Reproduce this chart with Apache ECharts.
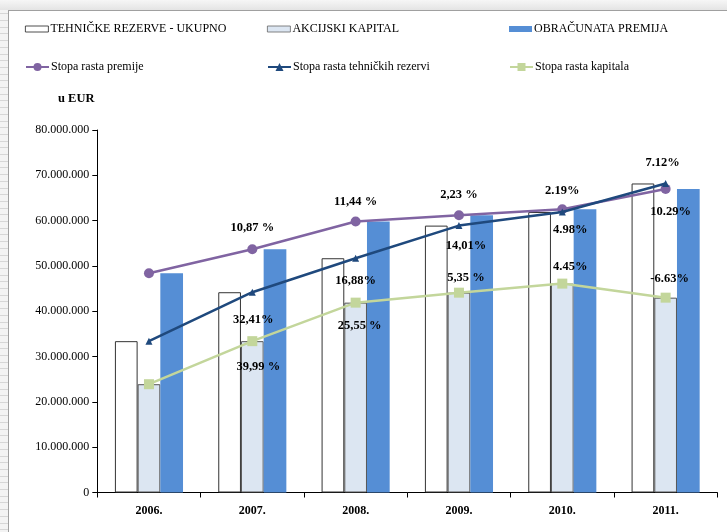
<!DOCTYPE html>
<html>
<head>
<meta charset="utf-8">
<script src="https://cdn.jsdelivr.net/npm/echarts@6/dist/echarts.min.js"></script>
<style>
  html, body { margin: 0; padding: 0; }
  body {
    width: 727px; height: 532px; position: relative; overflow: hidden;
    background: repeating-linear-gradient(to bottom, #d6d6d6 0px, #d6d6d6 1px, #f3f3f3 1px, #f3f3f3 6.7px);
  }
  #topband { position: absolute; left: 0; top: 0; width: 727px; height: 10px;
    background: linear-gradient(to bottom, #f6f6f6, #e4e4e4); }
  #frame { position: absolute; left: 8px; top: 10px; right: 0; bottom: 0;
    background: #fff; border-left: 1px solid #a0a0a0; border-top: 1px solid #a0a0a0; }
  #chart { position: absolute; left: 0; top: 0; width: 727px; height: 532px; }
</style>
</head>
<body>
<div id="topband"></div>
<div id="frame"></div>
<div id="chart"></div>
<script>
// ---- data ----
const categories = ['2006.', '2007.', '2008.', '2009.', '2010.', '2011.'];
const tehnickeRezerve = [33400000, 44200000, 51700000, 58900000, 61900000, 68200000];
const akcijskiKapital = [23900000, 33400000, 41900000, 44100000, 46100000, 43000000];
const obracunataPremija = [48400000, 53700000, 59800000, 61200000, 62500000, 67000000];
const stopaPremije = [null, '10,87 %', '11,44 %', '2,23 %', '2.19%', '7.12%'];
const stopaRezervi = [null, '32,41%', '16,88%', '14,01%', '4.98%', '10.29%'];
const stopaKapitala = [null, '39,99 %', '25,55 %', '5,35 %', '4.45%', '-6.63%'];
const yTicks = { min: 0, max: 80000000, step: 10000000 };

// ---- label placement (layout only) ----
const premOff = [[0, 0], [0, -21], [0, -20], [0, -20], [0, -19], [-3, -26]];
const rezOff = [[0, 0], [1, 28], [0, 23], [7, 20], [8, 18], [5, 28]];
const kapOff = [[0, 0], [6, 26], [4, 23], [7, -15], [8, -17], [4, -19]];

const serif = '"Liberation Serif", "Times New Roman", serif';
const names = ['TEHNIČKE REZERVE - UKUPNO', 'AKCIJSKI KAPITAL', 'OBRAČUNATA PREMIJA',
  'Stopa rasta premije', 'Stopa rasta tehničkih rezervi', 'Stopa rasta kapitala'];

function labelled(values, texts, offs) {
  return values.map((v, i) => ({
    value: v,
    label: texts[i] == null ? { show: false } : {
      show: true, position: 'inside', formatter: texts[i], offset: offs[i],
      fontFamily: serif, fontWeight: 'bold', fontSize: 12.5, color: '#000'
    }
  }));
}
function fmt(v) { return String(v).replace(/\B(?=(\d{3})+(?!\d))/g, '.'); }

const legendPos = [[25, 23, 6], [267, 23, 6], [509, 23, 6], [25, 61, 10], [267, 61, 10], [509, 61, 10]];
const legendItemStyle = [
  { color: '#ffffff', borderColor: '#222', borderWidth: 0.8 },
  { color: '#dce6f2', borderColor: '#666', borderWidth: 0.8 },
  { color: '#558ed5', borderWidth: 0 },
  null, null, null
];
const legends = names.map((n, i) => {
  const lg = {
    data: [n], left: legendPos[i][0], top: legendPos[i][1], padding: 0,
    itemWidth: 23, itemHeight: legendPos[i][2], selectedMode: false,
    textStyle: { fontFamily: serif, fontSize: 12, color: '#000', padding: [0, 0, 0, -3] }
  };
  if (legendItemStyle[i]) { lg.icon = 'rect'; lg.itemStyle = legendItemStyle[i]; }
  return lg;
});

const chart = echarts.init(document.getElementById('chart'), null, { renderer: 'canvas' });
chart.setOption({
  animation: false,
  backgroundColor: 'transparent',
  legend: legends,
  grid: { left: 97.3, right: 9.7, top: 130, bottom: 39.5, containLabel: false },
  graphic: [{
    type: 'text', left: 58, top: 92,
    style: { text: 'u EUR', fontFamily: serif, fontWeight: 'bold', fontSize: 12.5, fill: '#000' }
  }],
  xAxis: {
    type: 'category', data: categories, boundaryGap: true,
    axisLine: { lineStyle: { color: '#000', width: 1 } },
    axisTick: { show: true, length: 5, lineStyle: { color: '#000' } },
    axisLabel: { margin: 12, fontFamily: serif, fontWeight: 'bold', fontSize: 12, color: '#000' },
    splitLine: { show: false }
  },
  yAxis: {
    type: 'value', min: yTicks.min, max: yTicks.max, interval: yTicks.step,
    axisLine: { show: true, lineStyle: { color: '#000', width: 1 } },
    axisTick: { show: true, length: 5, lineStyle: { color: '#000' } },
    axisLabel: { margin: 8, formatter: fmt, fontFamily: serif, fontSize: 12, color: '#000' },
    splitLine: { show: false }
  },
  series: [
    { name: names[0], type: 'bar', data: tehnickeRezerve, barWidth: 22.7, barGap: '0%',
      itemStyle: { color: '#ffffff', borderColor: '#333', borderWidth: 1 } },
    { name: names[1], type: 'bar', data: akcijskiKapital, barWidth: 22.7, barGap: '0%',
      itemStyle: { color: '#dce6f2', borderColor: '#555', borderWidth: 1 } },
    { name: names[2], type: 'bar', data: obracunataPremija, barWidth: 22.7, barGap: '0%',
      itemStyle: { color: '#558ed5' } },
    { name: names[3], type: 'line', z: 5, data: labelled(obracunataPremija, stopaPremije, premOff),
      symbol: 'circle', symbolSize: 10,
      lineStyle: { color: '#8064a2', width: 2.5 }, itemStyle: { color: '#8064a2' } },
    { name: names[4], type: 'line', z: 6, data: labelled(tehnickeRezerve, stopaRezervi, rezOff),
      symbol: 'triangle', symbolSize: 7,
      lineStyle: { color: '#1f497d', width: 2.5 }, itemStyle: { color: '#1f497d' } },
    { name: names[5], type: 'line', z: 5, data: labelled(akcijskiKapital, stopaKapitala, kapOff),
      symbol: 'rect', symbolSize: 10,
      lineStyle: { color: '#c3d69b', width: 2.5 }, itemStyle: { color: '#c3d69b' } }
  ]
});
</script>
</body>
</html>
